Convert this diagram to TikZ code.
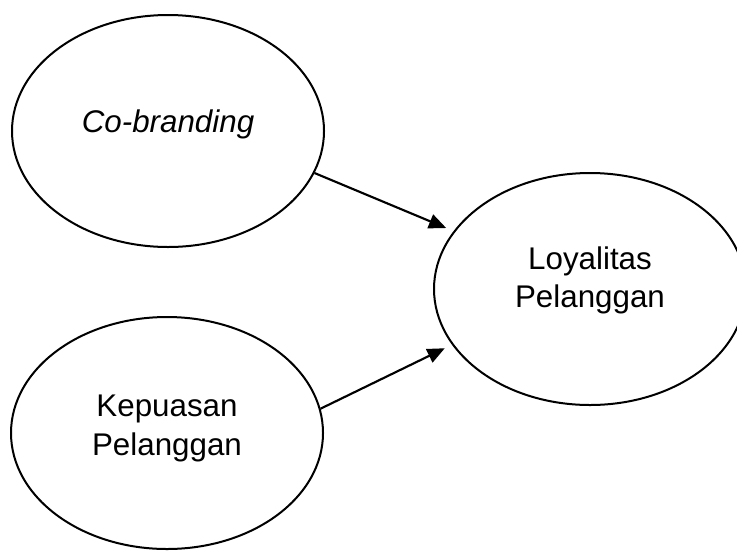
\documentclass[tikz,border=0pt]{standalone}
\usepackage{fontspec}
\setmainfont{Liberation Sans}
\usetikzlibrary{arrows.meta,shapes}

\begin{document}
\begin{tikzpicture}[x=0.75pt,y=-0.75pt]

		\useasboundingbox (0,0) rectangle (737,550);

		\tikzstyle{edge} = [draw,line width=1.6pt,-{Triangle[length=13pt,width=11pt]},shorten >=6pt]

		\tikzset{vertex/.style = {shape=ellipse,draw,line width=1.5pt,minimum width=234pt,minimum height=174pt,inner sep=0pt,align=center,font=\fontsize{23.5pt}{29pt}\selectfont}}
		\node[vertex,text depth=15pt] (cob) at (168,131) {\textit{Co-branding}};
		\node[vertex,text depth=12pt] (kep) at (167,433) {Kepuasan\\Pelanggan};
		\node[vertex,text depth=18pt] (loy) at (590,289) {Loyalitas\\Pelanggan};

		\draw[edge] (cob.-16) to (loy.157);
		\draw[edge] (kep.9) to (loy.202);
		\end{tikzpicture}
\end{document}
